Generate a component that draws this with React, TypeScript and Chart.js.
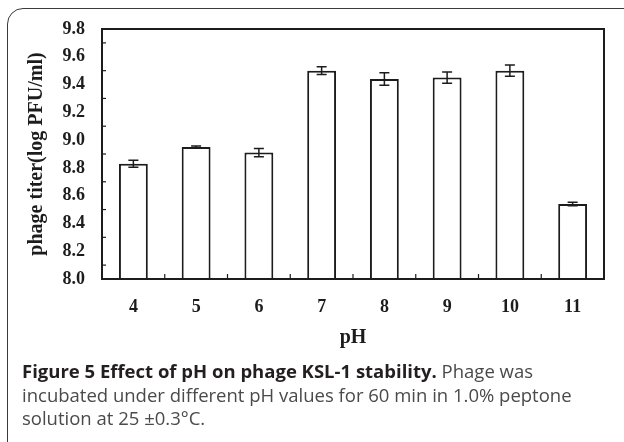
import React, { useEffect, useRef } from "react";
import { Chart, registerables } from "chart.js";

Chart.register(...registerables);

const categories = ["4", "5", "6", "7", "8", "9", "10", "11"];
const titerValues = [8.83, 8.95, 8.91, 9.5, 9.44, 9.45, 9.5, 8.54];
const titerErrors = [0.025, 0.008, 0.03, 0.028, 0.045, 0.04, 0.04, 0.012];
const yMin = 8.0;
const yMax = 9.8;
const yStep = 0.2;
const yTitle = "phage titer(log PFU/ml)";
const xTitle = "pH";

const INK = "#1c1c1c";

const framePlugin = {
  id: "frameAndErrors",
  afterDatasetsDraw(chart: any) {
    const { ctx, chartArea, scales } = chart;
    const ys = scales.y;
    const xs = scales.x;
    ctx.save();
    // error bars
    const meta = chart.getDatasetMeta(0);
    ctx.strokeStyle = INK;
    ctx.lineWidth = 1.5;
    meta.data.forEach((el: any, i: number) => {
      const v = titerValues[i];
      const e = titerErrors[i];
      const x = el.x;
      const yTop = ys.getPixelForValue(v + e);
      const yBot = ys.getPixelForValue(v - e);
      const cap = 5;
      ctx.beginPath();
      ctx.moveTo(x, yTop);
      ctx.lineTo(x, yBot);
      ctx.moveTo(x - cap, yTop);
      ctx.lineTo(x + cap, yTop);
      ctx.moveTo(x - cap, yBot);
      ctx.lineTo(x + cap, yBot);
      ctx.stroke();
    });
    // inner minor ticks on y axis (odd tenths)
    ctx.lineWidth = 1.2;
    ys.ticks.forEach((t: any) => {
      const mv = t.value + yStep / 2;
      if (mv < yMax) {
        const py = ys.getPixelForValue(mv);
        ctx.beginPath();
        ctx.moveTo(chartArea.left, py);
        ctx.lineTo(chartArea.left + 4, py);
        ctx.stroke();
      }
    });
    // x ticks at category boundaries, inward
    for (let i = 1; i < categories.length; i++) {
      const px = (xs.getPixelForValue(i - 1) + xs.getPixelForValue(i)) / 2;
      ctx.beginPath();
      ctx.moveTo(px, chartArea.bottom);
      ctx.lineTo(px, chartArea.bottom - 5);
      ctx.stroke();
    }
    // frame
    ctx.lineWidth = 2;
    ctx.strokeRect(
      chartArea.left,
      chartArea.top,
      chartArea.right - chartArea.left,
      chartArea.bottom - chartArea.top
    );
    ctx.restore();
  },
};

export default function App() {
  const canvasRef = useRef<HTMLCanvasElement | null>(null);

  useEffect(() => {
    if (!canvasRef.current) return;
    const chart = new Chart(canvasRef.current, {
      type: "bar",
      data: {
        labels: categories,
        datasets: [
          {
            data: titerValues,
            backgroundColor: "#ffffff",
            borderColor: INK,
            borderWidth: 2,
            barPercentage: 0.46,
            categoryPercentage: 1,
          },
        ],
      },
      options: {
        animation: false,
        responsive: false,
        devicePixelRatio: 1,
        layout: { padding: { left: 0, right: 20, top: 29, bottom: 0 } },
        plugins: {
          legend: { display: false },
          tooltip: { enabled: false },
        },
        scales: {
          x: {
            grid: { display: false },
            border: { display: false },
            ticks: {
              color: INK,
              padding: 10,
              font: { family: "'Liberation Serif', serif", size: 18, weight: "bold" },
            },
            title: {
              display: true,
              text: xTitle,
              color: INK,
              padding: { top: 0, bottom: 10 },
              font: { family: "'Liberation Serif', serif", size: 20, weight: "bold" },
            },
            afterFit: (scale: any) => {
              scale.height = 81;
            },
          },
          y: {
            min: yMin,
            max: yMax,
            grid: { display: false },
            border: { display: false },
            ticks: {
              stepSize: yStep,
              color: INK,
              padding: 9,
              font: { family: "'Liberation Serif', serif", size: 18, weight: "bold" },
              callback: (v: any) => Number(v).toFixed(1),
            },
            title: {
              display: true,
              text: yTitle,
              color: INK,
              padding: { top: 25, bottom: 0 },
              font: { family: "'Liberation Serif', serif", size: 20, weight: "bold" },
            },
            afterFit: (scale: any) => {
              scale.width = 102;
            },
          },
        },
      },
      plugins: [framePlugin],
    });
    return () => chart.destroy();
  }, []);

  return (
    <div
      style={{
        position: "fixed",
        left: 0,
        top: 0,
        width: 624,
        height: 442,
        overflow: "hidden",
        background: "#ffffff",
      }}
    >
      <div
        style={{
          position: "absolute",
          left: 7,
          top: 8,
          width: 640,
          height: 480,
          border: "1.5px solid #3a3a3a",
          borderRadius: 16,
          boxSizing: "border-box",
        }}
      />
      <canvas
        ref={canvasRef}
        width={624}
        height={360}
        style={{ position: "absolute", left: 0, top: 0, width: 624, height: 360 }}
      />
      <div
        style={{
          position: "absolute",
          left: 22,
          top: 359,
          whiteSpace: "nowrap",
          fontFamily: "'Open Sans', sans-serif",
          fontSize: 18.5,
          lineHeight: "23.5px",
          color: "#4a4a4a",
        }}
      >
        <span style={{ fontWeight: 700, color: "#231f20" }}>
          Figure 5 Effect of pH on phage KSL-1 stability.
        </span>{" "}
        Phage was
        <br />
        incubated under different pH values for 60 min in 1.0% peptone
        <br />
        solution at 25 ±0.3°C.
      </div>
    </div>
  );
}
